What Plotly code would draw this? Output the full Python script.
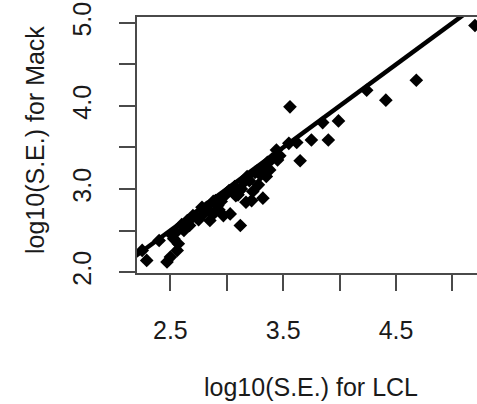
import plotly.graph_objects as go

# Data (log10 standard errors)
lcl = [5.20, 4.68, 4.41, 4.24, 3.99, 3.85, 3.90, 3.75, 3.65, 3.56, 3.62, 3.55,
       3.44, 3.45, 3.47, 3.38, 3.40, 3.33, 3.30, 3.35, 3.25, 3.23, 3.32, 3.17,
       3.22, 3.28, 3.20, 3.12, 3.11, 3.15, 3.05, 3.08, 3.00, 3.03, 2.97, 2.95,
       2.92, 2.88, 2.85, 2.88, 2.83, 2.79, 2.78, 2.75, 2.73, 2.70, 2.67, 2.65,
       2.62, 2.60, 2.57, 2.53, 2.56, 2.55, 2.51, 2.50, 2.47, 2.29, 2.25, 2.40,
       3.13, 3.18, 2.98, 2.68, 2.82, 2.90, 3.02, 3.07, 3.27, 3.36, 2.93, 3.10]
mack = [4.97, 4.31, 4.07, 4.19, 3.82, 3.80, 3.59, 3.59, 3.34, 3.99, 3.56, 3.55,
        3.47, 3.35, 3.40, 3.23, 3.36, 3.26, 3.17, 3.15, 3.20, 2.97, 2.89, 2.84,
        2.86, 3.05, 3.10, 2.56, 2.98, 3.08, 3.00, 2.92, 2.95, 2.70, 2.68, 2.85,
        2.80, 2.85, 2.62, 2.70, 2.75, 2.70, 2.78, 2.63, 2.66, 2.68, 2.56, 2.62,
        2.50, 2.57, 2.34, 2.40, 2.26, 2.48, 2.45, 2.18, 2.12, 2.14, 2.26, 2.38,
        3.00, 3.15, 2.92, 2.64, 2.78, 2.86, 2.98, 3.03, 3.22, 3.32, 2.75, 2.93]
line_intercept = 0.0
line_slope = 1.0

x_ticks = [2.5, 3.0, 3.5, 4.0, 4.5, 5.0]
x_ticktext = ["2.5", "", "3.5", "", "4.5", ""]
y_ticks = [2.0, 2.5, 3.0, 3.5, 4.0, 4.5, 5.0]
y_ticktext = ["2.0", "", "3.0", "", "4.0", "", "5.0"]

x_range = [2.204, 5.218]
y_range = [1.988, 5.072]

W, H = 477, 404
ml, mr, mt, mb = 137, 0, 17, 131
pw, ph = W - ml - mr, H - mt - mb

FONT = "Liberation Sans, Arial, sans-serif"
TXT = "#1a1a1a"
AX = "#4a4a4a"

fig = go.Figure()
lx = [x_range[0] - 0.5, x_range[1] + 0.5]
fig.add_trace(go.Scatter(
    x=lx, y=[line_intercept + line_slope * v for v in lx],
    mode="lines", line=dict(color="black", width=4.5), hoverinfo="skip"))
fig.add_trace(go.Scatter(
    x=lcl, y=mack, mode="markers",
    marker=dict(symbol="diamond", size=10.5, color="black", line=dict(width=0)),
    cliponaxis=False))

fig.update_layout(
    width=W, height=H, showlegend=False,
    margin=dict(l=ml, r=mr, t=mt, b=mb, pad=0),
    paper_bgcolor="white", plot_bgcolor="white",
    font=dict(family=FONT, size=25, color=TXT),
    xaxis=dict(range=x_range, tickvals=x_ticks, ticktext=x_ticktext,
               showgrid=False, zeroline=False, showline=True, linecolor=AX,
               linewidth=2, mirror=True, ticks="outside", ticklen=16,
               tickwidth=2, tickcolor=AX, ticklabelstandoff=18,
               tickfont=dict(family=FONT, size=25, color=TXT)),
    yaxis=dict(range=y_range, tickvals=y_ticks, ticktext=y_ticktext,
               showgrid=False, zeroline=False, showline=True, linecolor=AX,
               linewidth=2, mirror=False, ticks="outside", ticklen=16,
               tickwidth=2, tickcolor=AX, tickangle=-90, ticklabelstandoff=18,
               tickfont=dict(family=FONT, size=25, color=TXT)),
    annotations=[
        dict(text="log10(S.E.) for LCL", xref="paper", yref="paper",
             x=(311 - ml) / pw, y=-(387 - (mt + ph)) / ph,
             xanchor="center", yanchor="middle", showarrow=False,
             font=dict(family=FONT, size=25, color=TXT)),
        dict(text="log10(S.E.) for Mack", xref="paper", yref="paper",
             x=(35 - ml) / pw, y=((mt + ph) - 140) / ph, textangle=-90,
             xanchor="center", yanchor="middle", showarrow=False,
             font=dict(family=FONT, size=25, color=TXT)),
    ],
)

fig.write_html("out.html")
